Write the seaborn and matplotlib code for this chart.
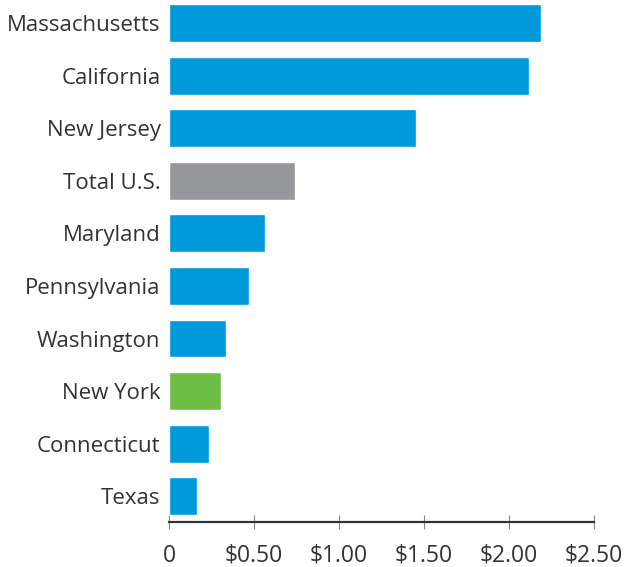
import numpy as np
import pandas as pd
import matplotlib
matplotlib.use('Agg')
import matplotlib.pyplot as plt
import seaborn as sns

# Values
states = ['Massachusetts', 'California', 'New Jersey', 'Total U.S.', 'Maryland',
          'Pennsylvania', 'Washington', 'New York', 'Connecticut', 'Texas']
values = [2.19, 2.12, 1.45, 0.74, 0.565, 0.47, 0.335, 0.305, 0.235, 0.165]
bar_colors = ['#0099da', '#0099da', '#0099da', '#97989c', '#0099da',
              '#0099da', '#0099da', '#6dbe45', '#0099da', '#0099da']
tick_values = [0, 0.5, 1.0, 1.5, 2.0, 2.5]
tick_labels = ['0', '$0.50', '$1.00', '$1.50', '$2.00', '$2.50']

df = pd.DataFrame({'state': states, 'value': values})

sns.set_style('white')
plt.rcParams['font.family'] = ['Open Sans', 'DejaVu Sans']

fig = plt.figure(figsize=(6.42, 5.67), dpi=100)
ax = fig.add_axes([169 / 642, 45 / 567, 425 / 642, 522 / 567])

sns.barplot(data=df, x='value', y='state', hue='state', palette=bar_colors,
            legend=False, orient='h', width=0.72, saturation=1, ax=ax)

ax.set_xlim(0, 2.5)
ax.set_ylim(9.49, -0.44)
ax.set_xticks(tick_values)
ax.set_xticklabels(tick_labels, fontsize=16.5, color='#333333')
ax.tick_params(axis='x', bottom=True, direction='inout', length=9.4, width=0.8,
               color='#888888', pad=11)
ax.tick_params(axis='y', left=False, length=0, pad=6, labelsize=16,
               labelcolor='#333333')
ax.set_xlabel('')
ax.set_ylabel('')

for side in ['top', 'right', 'left']:
    ax.spines[side].set_visible(False)
ax.spines['bottom'].set_color('#333333')
ax.spines['bottom'].set_linewidth(1.6)

fig.savefig('out.png', dpi=100)
